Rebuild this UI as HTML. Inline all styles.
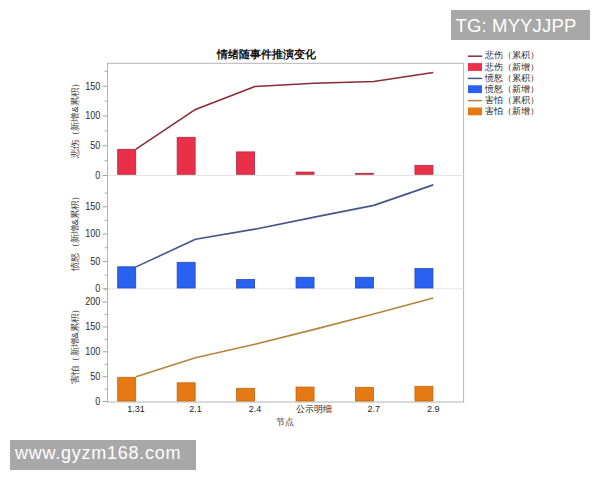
<!DOCTYPE html>
<html><head><meta charset="utf-8"><style>
html,body{margin:0;padding:0;background:#fff;width:600px;height:480px;overflow:hidden;}
svg{position:absolute;left:0;top:0;font-family:"Liberation Sans",sans-serif;}
.wm{position:absolute;background:#a8a8a8;color:#fff;font-family:"Liberation Sans",sans-serif;white-space:nowrap;}
</style></head><body>
<svg width="600" height="480" viewBox="0 0 600 480">
<rect x="107.5" y="63.3" width="356.1" height="338.7" fill="#fff" stroke="#b4b4b4" stroke-width="1"/>
<line x1="107.5" y1="175.5" x2="463.6" y2="175.5" stroke="#e4e4e4" stroke-width="1"/>
<rect x="117.70" y="149.30" width="18.0" height="25.00" fill="#ea2f48" stroke="#b02840" stroke-width="0.8"/>
<rect x="177.15" y="137.30" width="18.0" height="37.00" fill="#ea2f48" stroke="#b02840" stroke-width="0.8"/>
<rect x="236.60" y="151.90" width="18.0" height="22.40" fill="#ea2f48" stroke="#b02840" stroke-width="0.8"/>
<rect x="296.05" y="172.05" width="18.0" height="2.25" fill="#ea2f48" stroke="#b02840" stroke-width="0.8"/>
<rect x="355.50" y="173.30" width="18.0" height="1.00" fill="#ea2f48" stroke="#b02840" stroke-width="0.8"/>
<rect x="414.95" y="165.30" width="18.0" height="9.00" fill="#ea2f48" stroke="#b02840" stroke-width="0.8"/>
<polyline points="136.00,149.20 195.45,109.45 254.90,86.55 314.35,83.28 373.80,81.49 433.25,72.56" fill="none" stroke="#8c2a3a" stroke-width="1.6" stroke-linejoin="round"/>
<line x1="102.5" y1="175.50" x2="107.5" y2="175.50" stroke="#a4a4a4" stroke-width="1"/>
<text transform="translate(100.3,178.90) scale(0.9,1)" text-anchor="end" font-size="10" fill="#2a2a2a">0</text>
<line x1="102.5" y1="145.75" x2="107.5" y2="145.75" stroke="#a4a4a4" stroke-width="1"/>
<text transform="translate(100.3,149.15) scale(0.9,1)" text-anchor="end" font-size="10" fill="#2a2a2a">50</text>
<line x1="102.5" y1="116.00" x2="107.5" y2="116.00" stroke="#a4a4a4" stroke-width="1"/>
<text transform="translate(100.3,119.40) scale(0.9,1)" text-anchor="end" font-size="10" fill="#2a2a2a">100</text>
<line x1="102.5" y1="86.25" x2="107.5" y2="86.25" stroke="#a4a4a4" stroke-width="1"/>
<text transform="translate(100.3,89.65) scale(0.9,1)" text-anchor="end" font-size="10" fill="#2a2a2a">150</text>
<line x1="104.5" y1="160.62" x2="107.5" y2="160.62" stroke="#acacac" stroke-width="1"/>
<line x1="104.5" y1="130.88" x2="107.5" y2="130.88" stroke="#acacac" stroke-width="1"/>
<line x1="104.5" y1="101.12" x2="107.5" y2="101.12" stroke="#acacac" stroke-width="1"/>
<line x1="104.5" y1="71.38" x2="107.5" y2="71.38" stroke="#acacac" stroke-width="1"/>
<text transform="translate(78.2,118.5) rotate(-90) scale(1.025,1)" text-anchor="middle" font-size="9" fill="#333">悲伤（新增&amp;累积）</text>
<line x1="107.5" y1="288.75" x2="463.6" y2="288.75" stroke="#e4e4e4" stroke-width="1"/>
<rect x="117.70" y="266.80" width="18.0" height="21.20" fill="#2962f0" stroke="#2448b8" stroke-width="0.8"/>
<rect x="177.15" y="262.30" width="18.0" height="25.70" fill="#2962f0" stroke="#2448b8" stroke-width="0.8"/>
<rect x="236.60" y="279.55" width="18.0" height="8.45" fill="#2962f0" stroke="#2448b8" stroke-width="0.8"/>
<rect x="296.05" y="277.30" width="18.0" height="10.70" fill="#2962f0" stroke="#2448b8" stroke-width="0.8"/>
<rect x="355.50" y="277.30" width="18.0" height="10.70" fill="#2962f0" stroke="#2448b8" stroke-width="0.8"/>
<rect x="414.95" y="268.55" width="18.0" height="19.45" fill="#2962f0" stroke="#2448b8" stroke-width="0.8"/>
<polyline points="136.00,266.88 195.45,239.27 254.90,229.16 314.35,217.13 373.80,205.38 433.25,184.88" fill="none" stroke="#44558a" stroke-width="1.6" stroke-linejoin="round"/>
<line x1="102.5" y1="288.75" x2="107.5" y2="288.75" stroke="#a4a4a4" stroke-width="1"/>
<text transform="translate(100.3,292.15) scale(0.9,1)" text-anchor="end" font-size="10" fill="#2a2a2a">0</text>
<line x1="102.5" y1="261.42" x2="107.5" y2="261.42" stroke="#a4a4a4" stroke-width="1"/>
<text transform="translate(100.3,264.81) scale(0.9,1)" text-anchor="end" font-size="10" fill="#2a2a2a">50</text>
<line x1="102.5" y1="234.08" x2="107.5" y2="234.08" stroke="#a4a4a4" stroke-width="1"/>
<text transform="translate(100.3,237.48) scale(0.9,1)" text-anchor="end" font-size="10" fill="#2a2a2a">100</text>
<line x1="102.5" y1="206.75" x2="107.5" y2="206.75" stroke="#a4a4a4" stroke-width="1"/>
<text transform="translate(100.3,210.15) scale(0.9,1)" text-anchor="end" font-size="10" fill="#2a2a2a">150</text>
<line x1="104.5" y1="275.08" x2="107.5" y2="275.08" stroke="#acacac" stroke-width="1"/>
<line x1="104.5" y1="247.75" x2="107.5" y2="247.75" stroke="#acacac" stroke-width="1"/>
<line x1="104.5" y1="220.41" x2="107.5" y2="220.41" stroke="#acacac" stroke-width="1"/>
<line x1="104.5" y1="193.08" x2="107.5" y2="193.08" stroke="#acacac" stroke-width="1"/>
<text transform="translate(78.2,231.2) rotate(-90) scale(1.025,1)" text-anchor="middle" font-size="9" fill="#333">愤怒（新增&amp;累积）</text>
<rect x="117.70" y="377.30" width="18.0" height="23.70" fill="#e67a12" stroke="#c06510" stroke-width="0.8"/>
<rect x="177.15" y="382.80" width="18.0" height="18.20" fill="#e67a12" stroke="#c06510" stroke-width="0.8"/>
<rect x="236.60" y="388.30" width="18.0" height="12.70" fill="#e67a12" stroke="#c06510" stroke-width="0.8"/>
<rect x="296.05" y="387.05" width="18.0" height="13.95" fill="#e67a12" stroke="#c06510" stroke-width="0.8"/>
<rect x="355.50" y="387.30" width="18.0" height="13.70" fill="#e67a12" stroke="#c06510" stroke-width="0.8"/>
<rect x="414.95" y="386.30" width="18.0" height="14.70" fill="#e67a12" stroke="#c06510" stroke-width="0.8"/>
<polyline points="136.00,376.70 195.45,357.78 254.90,344.33 314.35,329.39 373.80,313.95 433.25,298.02" fill="none" stroke="#b6843a" stroke-width="1.6" stroke-linejoin="round"/>
<line x1="102.5" y1="401.60" x2="107.5" y2="401.60" stroke="#a4a4a4" stroke-width="1"/>
<text transform="translate(100.3,405.00) scale(0.9,1)" text-anchor="end" font-size="10" fill="#2a2a2a">0</text>
<line x1="102.5" y1="376.70" x2="107.5" y2="376.70" stroke="#a4a4a4" stroke-width="1"/>
<text transform="translate(100.3,380.10) scale(0.9,1)" text-anchor="end" font-size="10" fill="#2a2a2a">50</text>
<line x1="102.5" y1="351.80" x2="107.5" y2="351.80" stroke="#a4a4a4" stroke-width="1"/>
<text transform="translate(100.3,355.20) scale(0.9,1)" text-anchor="end" font-size="10" fill="#2a2a2a">100</text>
<line x1="102.5" y1="326.90" x2="107.5" y2="326.90" stroke="#a4a4a4" stroke-width="1"/>
<text transform="translate(100.3,330.30) scale(0.9,1)" text-anchor="end" font-size="10" fill="#2a2a2a">150</text>
<line x1="102.5" y1="302.00" x2="107.5" y2="302.00" stroke="#a4a4a4" stroke-width="1"/>
<text transform="translate(100.3,305.40) scale(0.9,1)" text-anchor="end" font-size="10" fill="#2a2a2a">200</text>
<line x1="104.5" y1="389.15" x2="107.5" y2="389.15" stroke="#acacac" stroke-width="1"/>
<line x1="104.5" y1="364.25" x2="107.5" y2="364.25" stroke="#acacac" stroke-width="1"/>
<line x1="104.5" y1="339.35" x2="107.5" y2="339.35" stroke="#acacac" stroke-width="1"/>
<line x1="104.5" y1="314.45" x2="107.5" y2="314.45" stroke="#acacac" stroke-width="1"/>
<line x1="104.5" y1="289.55" x2="107.5" y2="289.55" stroke="#acacac" stroke-width="1"/>
<text transform="translate(78.2,344.3) rotate(-90) scale(1.025,1)" text-anchor="middle" font-size="9" fill="#333">害怕（新增&amp;累积）</text>
<text x="136.00" y="412" text-anchor="middle" font-size="9" fill="#222">1.31</text>
<text x="195.45" y="412" text-anchor="middle" font-size="9" fill="#222">2.1</text>
<text x="254.90" y="412" text-anchor="middle" font-size="9" fill="#222">2.4</text>
<text x="314.35" y="412" text-anchor="middle" font-size="9" fill="#222">公示明细</text>
<text x="373.80" y="412" text-anchor="middle" font-size="9" fill="#222">2.7</text>
<text x="433.25" y="412" text-anchor="middle" font-size="9" fill="#222">2.9</text>
<text x="285" y="425.2" text-anchor="middle" font-size="9" fill="#333">节点</text>
<text x="266" y="58" text-anchor="middle" font-size="11" font-weight="bold" fill="#111">情绪随事件推演变化</text>
<line x1="467.8" y1="56.20" x2="482.2" y2="56.20" stroke="#8c2a3a" stroke-width="1.5"/>
<text x="485" y="58.40" font-size="9" fill="#222">悲伤（累积）</text>
<rect x="468" y="63.10" width="14" height="7.8" fill="#ea2f48"/>
<text x="485" y="69.50" font-size="9" fill="#222">悲伤（新增）</text>
<line x1="467.8" y1="78.40" x2="482.2" y2="78.40" stroke="#44558a" stroke-width="1.5"/>
<text x="485" y="80.60" font-size="9" fill="#222">愤怒（累积）</text>
<rect x="468" y="85.30" width="14" height="7.8" fill="#2962f0"/>
<text x="485" y="91.70" font-size="9" fill="#222">愤怒（新增）</text>
<line x1="467.8" y1="100.60" x2="482.2" y2="100.60" stroke="#b6843a" stroke-width="1.5"/>
<text x="485" y="102.80" font-size="9" fill="#222">害怕（累积）</text>
<rect x="468" y="107.50" width="14" height="7.8" fill="#e67a12"/>
<text x="485" y="113.90" font-size="9" fill="#222">害怕（新增）</text>
</svg>
<div class="wm" style="left:451px;top:10px;width:139px;height:30px;font-size:18.5px;letter-spacing:0.15px;line-height:31px;padding-left:4.5px;box-sizing:border-box;">TG: MYYJJPP</div>
<div class="wm" style="left:10px;top:440px;width:186px;height:30px;font-size:18px;letter-spacing:0.75px;line-height:27.6px;padding-left:5px;box-sizing:border-box;">www.gyzm168.com</div>
</body></html>
